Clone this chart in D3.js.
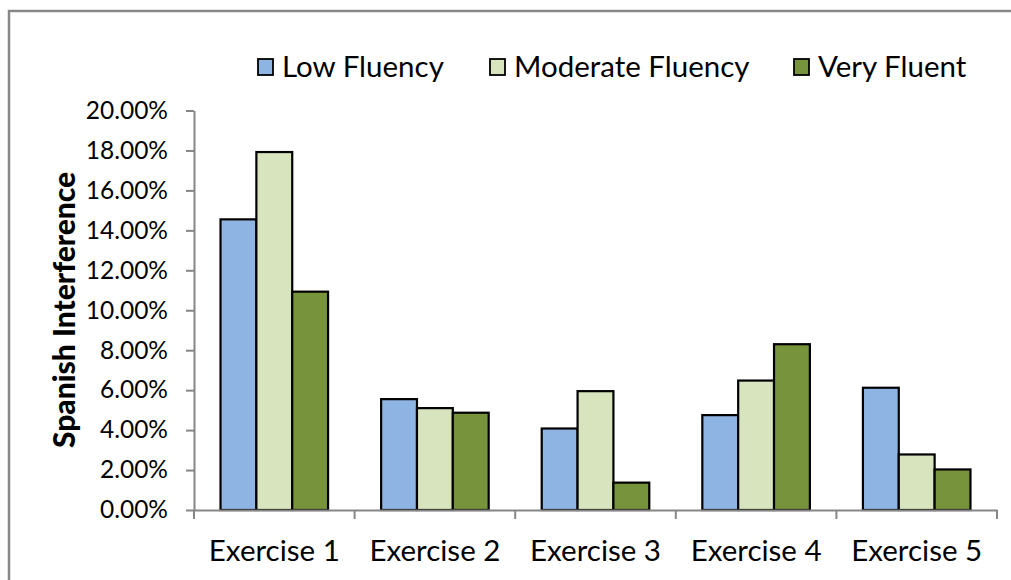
<!DOCTYPE html>
<html><head><meta charset="utf-8">
<script src="https://cdn.jsdelivr.net/npm/d3@7"></script>
<style>body{margin:0;background:#fff;} svg{display:block;}</style>
</head><body>
<svg id="chart" width="1011" height="580"></svg>
<script>
const categories = ["Exercise 1","Exercise 2","Exercise 3","Exercise 4","Exercise 5"];
const seriesNames = ["Low Fluency","Moderate Fluency","Very Fluent"];
const lowFluency = [0.1455, 0.0555, 0.0408, 0.0475, 0.0612];
const moderateFluency = [0.1792, 0.0510, 0.0595, 0.0648, 0.0278];
const veryFluent = [0.1093, 0.0487, 0.0137, 0.0830, 0.0203];
const yTicks = [0,0.02,0.04,0.06,0.08,0.10,0.12,0.14,0.16,0.18,0.20];
const colors = ["#8EB4E3","#D7E4BD","#77933C"];
const values = [lowFluency, moderateFluency, veryFluent];

const font = "Lato, 'Open Sans', sans-serif";
const svg = d3.select("#chart");
const m = {left:194, right:997, top:110.5, bottom:510};

// frame
svg.append("path").attr("d","M9,580 V11 H1011").attr("fill","none").attr("stroke","#878787").attr("stroke-width",2.5);

const x = d3.scaleBand().domain(categories).range([m.left,m.right]);
const xs = d3.scaleBand().domain(seriesNames).range([0,x.bandwidth()]).paddingOuter(0.74).paddingInner(0);
const y = d3.scaleLinear().domain([0,0.20]).range([m.bottom,m.top]);

// y axis
const yAxis = svg.append("g").attr("transform",`translate(${m.left},0)`)
  .call(d3.axisLeft(y).tickValues(yTicks).tickFormat(d3.format(".2%")).tickSize(8).tickSizeOuter(0));
yAxis.select(".domain").attr("stroke","#868686").attr("stroke-width",2);
yAxis.selectAll(".tick line").attr("stroke","#868686").attr("stroke-width",2);
yAxis.selectAll(".tick text").attr("x",-26).attr("font-family",font).attr("font-size",24.5).attr("fill","#000");

// bars
const groups = svg.append("g").selectAll("g").data(categories).join("g")
  .attr("transform",d=>`translate(${x(d)},0)`);
groups.selectAll("rect").data((d,i)=>seriesNames.map((s,j)=>({s, v:values[j][i], j})))
  .join("rect")
  .attr("x",d=>xs(d.s)).attr("width",xs.bandwidth())
  .attr("y",d=>y(d.v)).attr("height",d=>y(0)-y(d.v))
  .attr("fill",d=>colors[d.j]).attr("stroke","#000").attr("stroke-width",2.2);

// x axis
const xAxis = svg.append("g").attr("transform",`translate(0,${m.bottom})`)
  .call(d3.axisBottom(x).tickSize(0).tickSizeOuter(0));
xAxis.select(".domain").attr("stroke","#868686").attr("stroke-width",2);
xAxis.selectAll(".tick text").attr("dy",0).attr("y",51).attr("font-family",font).attr("font-size",29.5).attr("fill","#000");
const bounds = categories.map(c=>x(c)).concat([m.right]);
xAxis.selectAll("line.sep").data(bounds).join("line").attr("class","sep")
  .attr("x1",d=>d).attr("x2",d=>d).attr("y1",0).attr("y2",9)
  .attr("stroke","#868686").attr("stroke-width",2);

// y title
svg.append("text").attr("transform","translate(75,310) rotate(-90)")
  .attr("text-anchor","middle").attr("font-family",font).attr("font-weight","900")
  .attr("font-size",30).text("Spanish Interference");

// legend
const legX = [258, 490, 794];
const leg = svg.append("g").selectAll("g").data(seriesNames).join("g")
  .attr("transform",(d,i)=>`translate(${legX[i]},0)`);
leg.append("rect").attr("x",0).attr("y",59).attr("width",15).attr("height",16)
  .attr("fill",(d,i)=>colors[i]).attr("stroke","#000").attr("stroke-width",1.8);
leg.append("text").attr("x",24).attr("y",77).attr("font-family",font).attr("font-size",29.5).text(d=>d);
</script>
</body></html>
